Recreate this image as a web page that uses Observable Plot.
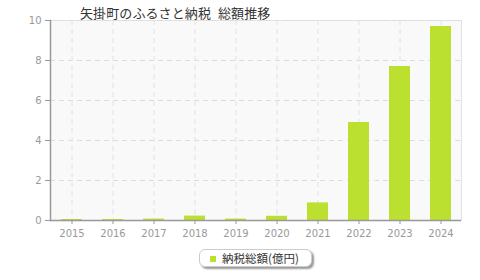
<!DOCTYPE html>
<html><head><meta charset="utf-8">
<script src="https://cdn.jsdelivr.net/npm/d3@7"></script>
<script src="https://cdn.jsdelivr.net/npm/@observablehq/plot@0.6"></script>
<style>
body{margin:0;background:#fff;font-family:"Noto Sans CJK JP",sans-serif;}
#wrap{position:relative;width:480px;height:280px;overflow:hidden;}
#title{position:absolute;left:80px;top:3px;font-size:13px;color:#333;white-space:nowrap;letter-spacing:0.1px;word-spacing:4px;}
#legend{position:absolute;left:199px;top:249px;width:111px;height:16px;border:1px solid #ccc;border-radius:6px;box-shadow:2px 2px 2px #999;background:#fff;font-size:11.5px;color:#333;line-height:16px;white-space:nowrap;}
#legend .sw{display:inline-block;width:6px;height:6px;background:#bce030;margin:0 6px 1px 10px;vertical-align:middle;}
</style></head>
<body><div id="wrap"><div id="title">矢掛町のふるさと納税 総額推移</div><div id="legend"><span class="sw"></span>納税総額(億円)</div></div>
<script>
const years = ["2015","2016","2017","2018","2019","2020","2021","2022","2023","2024"];
const values = [0.05,0.05,0.07,0.22,0.07,0.21,0.88,4.9,7.7,9.7];
const yTicks = [0,2,4,6,8,10];
const data = years.map((y,i)=>({year:y,value:values[i]}));
const chart = Plot.plot({
  width:480,height:280,marginLeft:50,marginRight:19,marginTop:20,marginBottom:60,
  style:{fontFamily:"DejaVu Sans, sans-serif",fontSize:"10px",color:"#999",background:"transparent"},
  x:{type:"band",domain:years,paddingInner:0.5,paddingOuter:0.25,label:null},
  y:{domain:[0,10],label:null},
  marks:[
    Plot.frame({fill:"#f9f9f9",stroke:"#e2e2e2"}),
    Plot.gridY(yTicks,{stroke:"#ddd",strokeOpacity:1,strokeDasharray:"5,4"}),
    Plot.ruleX(years,{x:d=>d,stroke:"#e2e2e2",strokeDasharray:"5,4"}),
    Plot.barY(data,{x:"year",y:"value",fill:"#bce030"}),
    Plot.axisY(yTicks,{tickSize:5,tickPadding:4,stroke:"#999",fill:"#999",fontSize:10}),
    Plot.axisX(years,{tickSize:4,tickPadding:5,stroke:"#999",fill:"#999",fontSize:10}),
    Plot.ruleY([0],{stroke:"#999",strokeWidth:1.5}),
    Plot.frame({anchor:"left",stroke:"#999",strokeWidth:1.5})
  ]
});
document.getElementById("wrap").prepend(chart);
chart.style.position="absolute";chart.style.left="0";chart.style.top="0";
</script></body></html>
